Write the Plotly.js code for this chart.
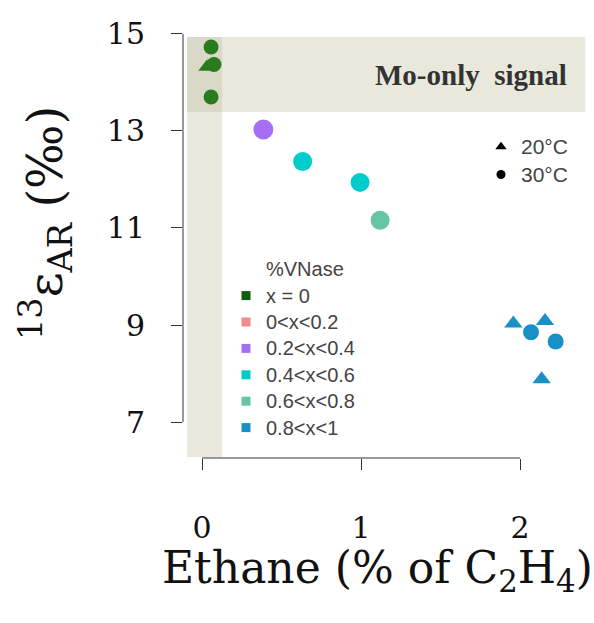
<!DOCTYPE html>
<html>
<head>
<meta charset="utf-8">
<script src="https://cdn.plot.ly/plotly-3.0.1.min.js"></script>
<style>html,body{margin:0;padding:0;background:#fff;}#chart{width:594px;height:623px;}</style>
</head>
<body>
<div id="chart"></div>
<script>
// ---- data ----
var vnaseCats = ['x = 0', '0<x<0.2', '0.2<x<0.4', '0.4<x<0.6', '0.6<x<0.8', '0.8<x<1'];
var tempLabels = ['20°C', '30°C'];

// ethane (% of C2H4), epsilon (per mil), temperature (°C) per VNase class
var ethane_x0   = [0.057, 0.031, 0.075, 0.057];
var eps_x0      = [14.73, 14.32, 14.37, 13.70];
var temp_x0     = [30, 20, 30, 30];

var ethane_02   = [];
var eps_02      = [];
var temp_02     = [];

var ethane_24   = [0.386];
var eps_24      = [13.03];
var temp_24     = [30];

var ethane_46   = [0.633, 0.994];
var eps_46      = [12.37, 11.94];
var temp_46     = [30, 30];

var ethane_68   = [1.12];
var eps_68      = [11.16];
var temp_68     = [30];

var ethane_81   = [1.958, 2.069, 2.157, 2.224, 2.136];
var eps_81      = [9.03, 8.85, 9.08, 8.66, 7.88];
var temp_81     = [20, 30, 20, 30, 20];

var xTicks = [0, 1, 2];
var yTicks = [7, 9, 11, 13, 15];

// ---- styles ----
var pointColors  = ['#2a7a1e', '#f28b8b', '#a66ef2', '#00cccc', '#66c6a2', '#1a90c8'];
var legendColors = ['#0b5e0b', '#f28b8b', '#a66ef2', '#00cccc', '#66c6a2', '#1a90c8'];
var circleSizes  = [15, 15, 20, 19, 19, 16];
var triSizes     = [15, 15, 16, 16, 16, 16];

var groups = [
  [ethane_x0, eps_x0, temp_x0],
  [ethane_02, eps_02, temp_02],
  [ethane_24, eps_24, temp_24],
  [ethane_46, eps_46, temp_46],
  [ethane_68, eps_68, temp_68],
  [ethane_81, eps_81, temp_81]
];

var traces = [];
groups.forEach(function (g, i) {
  traces.push({
    type: 'scatter', mode: 'markers', x: g[0], y: g[1],
    showlegend: false, hoverinfo: 'x+y',
    marker: {
      color: pointColors[i], opacity: 1,
      symbol: g[2].map(function (t) { return t === 20 ? 'triangle-up' : 'circle'; }),
      size: g[2].map(function (t) { return t === 20 ? triSizes[i] : circleSizes[i]; }),
      line: {width: 0}
    }
  });
});

function big(s, px) { return '<span style="font-size:' + px + 'px">' + s + '</span>'; }

// legend 1 (VNase classes) : header entry + one entry per class
traces.push({
  type: 'scatter', mode: 'markers', x: [null], y: [null], name: big('%VNase', 20),
  legend: 'legend', marker: {color: 'rgba(0,0,0,0)', size: 9, symbol: 'square'}
});
vnaseCats.forEach(function (c, i) {
  traces.push({
    type: 'scatter', mode: 'markers', x: [null], y: [null], name: big(c, 20),
    legend: 'legend', marker: {color: legendColors[i], size: 9, symbol: 'square', opacity: 1}
  });
});
// legend 2 (temperature)
tempLabels.forEach(function (t, i) {
  traces.push({
    type: 'scatter', mode: 'markers', x: [null], y: [null], name: big(t, 21),
    legend: 'legend2',
    marker: {color: '#000', size: i === 0 ? 10 : 9, symbol: i === 0 ? 'triangle-up' : 'circle', opacity: 1}
  });
});

var serif = 'DejaVu Serif, Liberation Serif, serif';
var sans = 'Liberation Sans, Arial, sans-serif';

var layout = {
  width: 594, height: 623,
  margin: {l: 183, r: 4, t: 30, b: 165},
  paper_bgcolor: '#fff', plot_bgcolor: '#fff',
  showlegend: true,
  xaxis: {
    range: [-0.1195, 2.44], tickvals: xTicks, ticktext: xTicks.map(String),
    showgrid: false, zeroline: false, showline: false,
    ticks: 'outside', ticklen: 11, tickwidth: 1, tickcolor: '#333',
    ticklabelstandoff: 32,
    tickfont: {family: serif, size: 30, color: '#111'}
  },
  yaxis: {
    range: [6.258, 15.082], tickvals: yTicks, ticktext: yTicks.map(String),
    showgrid: false, zeroline: false, showline: false,
    ticks: 'outside', ticklen: 11, tickwidth: 1, tickcolor: '#333',
    ticklabelstandoff: 20,
    tickfont: {family: serif, size: 30, color: '#111'}
  },
  shapes: [
    {type: 'rect', xref: 'x', yref: 'y', x0: -0.094, x1: 0.126, y0: 6.28, y1: 14.94,
     fillcolor: 'rgba(189,184,152,0.33)', line: {width: 0}, layer: 'below'},
    {type: 'rect', xref: 'x', yref: 'y', x0: -0.094, x1: 2.41, y0: 13.39, y1: 14.94,
     fillcolor: 'rgba(189,184,152,0.33)', line: {width: 0}, layer: 'below'},
    {type: 'line', xref: 'paper', yref: 'y', x0: 0, x1: 0, y0: 7, y1: 15,
     line: {color: '#333', width: 1}},
    {type: 'line', xref: 'x', yref: 'paper', x0: 0, x1: 2, y0: 0, y1: 0,
     line: {color: '#333', width: 1}}
  ],
  annotations: [
    {text: 'Mo-only\u00a0 signal', xref: 'paper', yref: 'paper',
     x: (569 - 183) / 407, xanchor: 'right', y: (458 - 75) / 428, yanchor: 'middle',
     showarrow: false, font: {family: 'Liberation Serif, serif', size: 29, color: '#333', weight: 'bold'}},
    {text: 'Ethane (% of C<sub>2</sub>H<sub>4</sub>)', xref: 'paper', yref: 'paper',
     x: (377 - 183) / 407, xanchor: 'center', y: (458 - 540) / 428, yanchor: 'top',
     showarrow: false, font: {family: serif, size: 44, color: '#111'}},
    {text: '<sup>13</sup>ε<sub>AR</sub> (‰)', xref: 'paper', yref: 'paper',
     x: (45 - 183) / 407, xanchor: 'center', y: (458 - 223) / 428, yanchor: 'middle',
     textangle: -90, showarrow: false, font: {family: serif, size: 48, color: '#111'}}
  ],
  legend: {
    x: (226 - 183) / 407, xanchor: 'left', y: (458 - 251) / 428, yanchor: 'top',
    bgcolor: 'rgba(0,0,0,0)', borderwidth: 0, tracegroupgap: 0,
    font: {family: sans, size: 18, color: '#444'}, itemclick: false, itemdoubleclick: false
  },
  legend2: {
    x: (481 - 183) / 407, xanchor: 'left', y: (458 - 128) / 428, yanchor: 'top',
    bgcolor: 'rgba(0,0,0,0)', borderwidth: 0, tracegroupgap: 0,
    font: {family: sans, size: 19, color: '#444'}, itemclick: false, itemdoubleclick: false
  }
};

Plotly.newPlot('chart', traces, layout, {displayModeBar: false, staticPlot: true});
</script>
</body>
</html>
